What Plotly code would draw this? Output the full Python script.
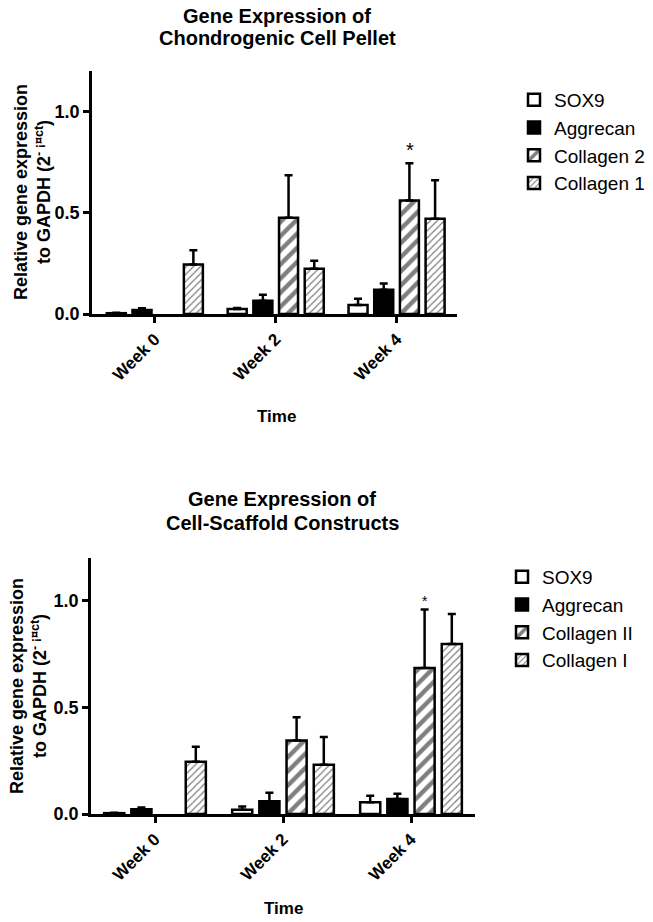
import plotly.graph_objects as go

# ---------------- data ----------------
weeks = ["Week 0", "Week 2", "Week 4"]

# Top chart: Chondrogenic Cell Pellet
pellet_sox9 = [0.004, 0.025, 0.045]
pellet_sox9_err = [0.002, 0.005, 0.03]
pellet_aggrecan = [0.02, 0.065, 0.12]
pellet_aggrecan_err = [0.008, 0.03, 0.03]
pellet_col2 = [None, 0.475, 0.56]
pellet_col2_err = [0.0, 0.21, 0.185]
pellet_col1 = [0.245, 0.223, 0.47]
pellet_col1_err = [0.07, 0.04, 0.19]
pellet_names = ["SOX9", "Aggrecan", "Collagen 2", "Collagen 1"]

# Bottom chart: Cell-Scaffold Constructs
scaf_sox9 = [0.004, 0.02, 0.055]
scaf_sox9_err = [0.002, 0.015, 0.03]
scaf_aggrecan = [0.022, 0.06, 0.07]
scaf_aggrecan_err = [0.008, 0.04, 0.025]
scaf_col2 = [None, 0.344, 0.684]
scaf_col2_err = [0.0, 0.11, 0.275]
scaf_col1 = [0.245, 0.231, 0.797]
scaf_col1_err = [0.07, 0.13, 0.14]
scaf_names = ["SOX9", "Aggrecan", "Collagen II", "Collagen I"]

y_ticks = [0.0, 0.5, 1.0]

# ---------------- styling ----------------
FONT = "Liberation Sans, Arial, sans-serif"
W, H = 653, 922

styles = [
    dict(color="white", pattern=None),
    dict(color="black", pattern=None),
    dict(color="white", pattern=dict(shape="/", fgcolor="black", bgcolor="white", size=10, solidity=0.45)),
    dict(color="white", pattern=dict(shape="/", fgcolor="black", bgcolor="white", size=5, solidity=0.25)),
]

fig = go.Figure()


def add_group(values, errors, names, xa, ya, legend):
    for v, e, n, s in zip(values, errors, names, styles):
        marker = dict(color=s["color"], line=dict(color="black", width=2.5))
        if s["pattern"] is not None:
            marker["pattern"] = s["pattern"]
        fig.add_trace(go.Bar(
            x=weeks, y=v, name=n, marker=marker,
            error_y=dict(type="data", array=e, arrayminus=[0] * len(e), symmetric=False,
                         color="black", thickness=2.5, width=4),
            xaxis=xa, yaxis=ya, legend=legend,
        ))


add_group([pellet_sox9, pellet_aggrecan, pellet_col2, pellet_col1],
          [pellet_sox9_err, pellet_aggrecan_err, pellet_col2_err, pellet_col1_err],
          pellet_names, "x", "y", "legend")
add_group([scaf_sox9, scaf_aggrecan, scaf_col2, scaf_col1],
          [scaf_sox9_err, scaf_aggrecan_err, scaf_col2_err, scaf_col1_err],
          scaf_names, "x2", "y2", "legend2")


def px_x(p):
    return p / W


def px_y(p):
    return 1 - p / H


axis_common = dict(showline=True, linecolor="black", linewidth=2.5, ticks="outside",
                   ticklen=6, tickwidth=2.5, tickcolor="black", showgrid=False, zeroline=False,
                   mirror=False)
xfont = dict(family=FONT, size=17, color="black", weight="bold")
yfont = dict(family=FONT, size=18, color="black", weight="bold")

fig.update_layout(
    width=W, height=H,
    margin=dict(l=0, r=0, t=0, b=0, autoexpand=False),
    paper_bgcolor="white", plot_bgcolor="white",
    barmode="group", bargap=0.15, bargroupgap=0.26,
    showlegend=True,
    xaxis=dict(domain=[px_x(92), px_x(457)], anchor="y", type="category", range=[-0.52, 2.5],
               tickangle=-45, tickfont=xfont, **axis_common),
    yaxis=dict(domain=[px_y(314), px_y(71)], anchor="x", range=[0, 1.2], tickvals=y_ticks,
               tickformat=".1f", tickfont=yfont, **axis_common),
    xaxis2=dict(domain=[px_x(91), px_x(475)], anchor="y2", type="category", range=[-0.5, 2.5],
                tickangle=-45, tickfont=xfont, **axis_common),
    yaxis2=dict(domain=[px_y(814), px_y(558)], anchor="x2", range=[0, 1.2], tickvals=y_ticks,
                tickformat=".1f", tickfont=yfont, **axis_common),
    legend=dict(x=px_x(514), y=px_y(81), xanchor="left", yanchor="top",
                font=dict(family=FONT, size=19, color="black"), bgcolor="rgba(0,0,0,0)",
                itemwidth=30, tracegroupgap=0),
    legend2=dict(x=px_x(502), y=px_y(558), xanchor="left", yanchor="top",
                 font=dict(family=FONT, size=19, color="black"), bgcolor="rgba(0,0,0,0)",
                 itemwidth=30, tracegroupgap=0),
)

title_font = dict(family=FONT, size=20, color="black", weight="bold")
label_font = dict(family=FONT, size=18, color="black", weight="bold")
time_font = dict(family=FONT, size=17, color="black", weight="bold")


def paper_text(text, x, y, font, **kw):
    return dict(text=text, x=px_x(x), y=px_y(y), xref="paper", yref="paper", showarrow=False,
                font=font, xanchor="center", yanchor="middle", **kw)


ylabel = "Relative gene expression<br>to GAPDH (2<sup>- ¡¤ct</sup>)"
ann = [
    paper_text("Gene Expression of", 277, 16, title_font),
    paper_text("Chondrogenic Cell Pellet", 277, 38, title_font),
    paper_text("Gene Expression of", 282, 499, title_font),
    paper_text("Cell-Scaffold Constructs", 282, 523, title_font),
    paper_text(ylabel, 33, 192, label_font, textangle=-90),
    paper_text(ylabel, 28, 686, label_font, textangle=-90),
    paper_text("Time", 276, 417, time_font),
    paper_text("Time", 283, 908, time_font),
    dict(text="*", x="Week 4", xshift=13, y=0.81, xref="x", yref="y", showarrow=False,
         font=dict(family=FONT, size=20, color="black"), xanchor="center", yanchor="middle"),
    dict(text="*", x="Week 4", xshift=14, y=1.0, xref="x2", yref="y2", showarrow=False,
         font=dict(family=FONT, size=14, color="black"), xanchor="center", yanchor="middle"),
]
fig.update_layout(annotations=ann)

fig.write_html("out.html",
               config={"displayModeBar": False},
               post_script="document.body.style.margin='0';document.body.style.overflow='hidden';")
